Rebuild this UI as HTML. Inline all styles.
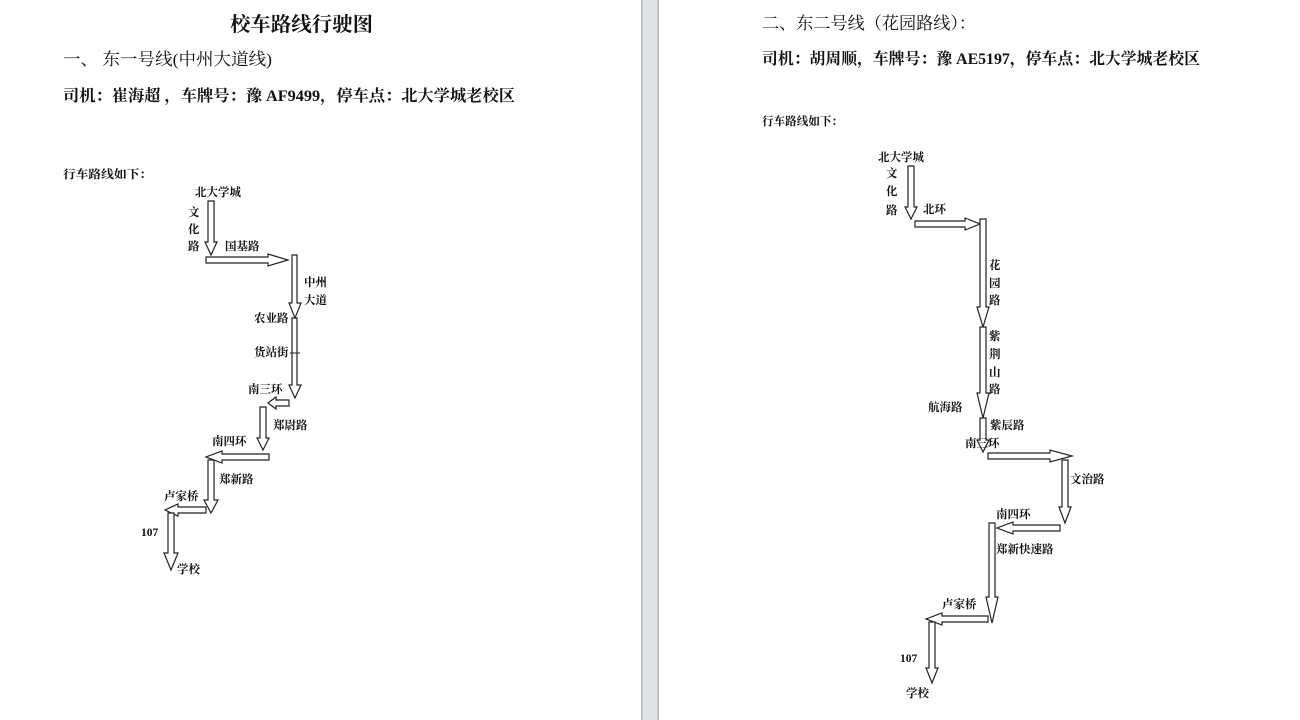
<!DOCTYPE html>
<html><head><meta charset="utf-8"><style>
html,body{margin:0;padding:0;background:#fff;}
svg{display:block}
text{font-family:"Liberation Serif","Noto Serif CJK SC","Noto Sans CJK SC",serif;fill:#111;}
.l{font-size:11.5px;font-weight:bold;}
</style></head><body>
<svg width="1300" height="720" viewBox="0 0 1300 720" xmlns="http://www.w3.org/2000/svg">
<rect x="0" y="0" width="1300" height="720" fill="#fff"/>
<rect x="641" y="0" width="18" height="720" fill="#dfe2e5"/>
<rect x="641" y="0" width="1.5" height="720" fill="#b8babc"/>
<rect x="657.5" y="0" width="1.5" height="720" fill="#b8babc"/>

<text x="230" y="31" font-size="20" font-weight="bold" textLength="143" lengthAdjust="spacingAndGlyphs">校车路线行驶图</text>
<text x="63" y="65" font-size="17" textLength="209" lengthAdjust="spacingAndGlyphs">一、 东一号线(中州大道线)</text>
<text x="63" y="101" font-size="16" font-weight="bold" textLength="452" lengthAdjust="spacingAndGlyphs">司机：崔海超 ，车牌号：豫 AF9499，停车点：北大学城老校区</text>
<text x="63" y="178" class="l" textLength="89" lengthAdjust="spacingAndGlyphs">行车路线如下：</text>

<text x="762" y="29" font-size="17" textLength="214" lengthAdjust="spacingAndGlyphs">二、东二号线（花园路线）：</text>
<text x="762" y="64" font-size="16" font-weight="bold" textLength="438" lengthAdjust="spacingAndGlyphs">司机：胡周顺，车牌号：豫 AE5197，停车点：北大学城老校区</text>
<text x="762" y="125" class="l" textLength="81" lengthAdjust="spacingAndGlyphs">行车路线如下：</text>

<g fill="#fff" stroke="#222" stroke-width="1.2">
<polygon points="208,201 214,201 214,242 217,242 211,255 205,242 208,242"/>
<polygon points="206,257 268,257 268,254 288,260 268,266 268,263 206,263"/>
<polygon points="292,255 297,255 297,303 301,303 295,318 289,303 292,303"/>
<polygon points="292,318 297,318 297,385 301,385 295,398 289,385 292,385"/>
<polygon points="289,400 276,400 276,397 268,403 276,409 276,406 289,406"/>
<polygon points="260,407 266,407 266,438 269,438 263,450 257,438 260,438"/>
<polygon points="269,454 222,454 222,451 206,457 222,463 222,460 269,460"/>
<polygon points="208,460 214,460 214,500 218,500 211,513 204,500 208,500"/>
<polygon points="206,507 178,507 178,504 165,510 178,516 178,513 206,513"/>
<polygon points="168,513 174,513 174,553 178,553 171,570 164,553 168,553"/>

<polygon points="908,166 914,166 914,207 917,207 911,219 905,207 908,207"/>
<polygon points="915,221 965,221 965,218 980,224 965,230 965,227 915,227"/>
<polygon points="980,219 986,219 986,307 989,307 983,327 977,307 980,307"/>
<polygon points="980,327 986,327 986,393 989,393 983,418 977,393 980,393"/>
<polygon points="980,418 986,418 986,440 989,440 983,452 977,440 980,440"/>
<polygon points="988,453 1050,453 1050,450 1072,456 1050,462 1050,459 988,459"/>
<polygon points="1062,460 1068,460 1068,507 1071,507 1065,523 1059,507 1062,507"/>
<polygon points="1060,525 1013,525 1013,522 997,528 1013,534 1013,531 1060,531"/>
<polygon points="989,523 995,523 995,597 998,597 992,623 986,597 989,597"/>
<polygon points="988,616 942,616 942,613 926,619 942,625 942,622 988,622"/>
<polygon points="929,622 935,622 935,668 938,668 932,683 926,668 929,668"/>
</g>
<line x1="290" y1="353" x2="300" y2="353" stroke="#222" stroke-width="1"/>

<g>
<text x="195" y="196" class="l">北大学城</text>
<text x="188" y="216" class="l">文</text>
<text x="188" y="233" class="l">化</text>
<text x="188" y="250" class="l">路</text>
<text x="225" y="250" class="l">国基路</text>
<text x="304" y="286" class="l">中州</text>
<text x="304" y="304" class="l">大道</text>
<text x="254" y="322" class="l">农业路</text>
<text x="254" y="356" class="l">货站街</text>
<text x="248" y="393" class="l">南三环</text>
<text x="273" y="429" class="l">郑尉路</text>
<text x="212" y="445" class="l">南四环</text>
<text x="219" y="483" class="l">郑新路</text>
<text x="164" y="500" class="l">卢家桥</text>
<text x="141" y="536" class="l">107</text>
<text x="177" y="573" class="l">学校</text>

<text x="878" y="161" class="l">北大学城</text>
<text x="886" y="177" class="l">文</text>
<text x="886" y="195" class="l">化</text>
<text x="886" y="214" class="l">路</text>
<text x="923" y="213" class="l">北环</text>
<text x="989" y="269" class="l">花</text>
<text x="989" y="287" class="l">园</text>
<text x="989" y="304" class="l">路</text>
<text x="989" y="340" class="l">紫</text>
<text x="989" y="358" class="l">荆</text>
<text x="989" y="376" class="l">山</text>
<text x="989" y="393" class="l">路</text>
<text x="928" y="411" class="l">航海路</text>
<text x="990" y="429" class="l">紫辰路</text>
<text x="965" y="447" class="l">南三环</text>
<text x="1070" y="483" class="l">文治路</text>
<text x="996" y="518" class="l">南四环</text>
<text x="996" y="553" class="l">郑新快速路</text>
<text x="942" y="608" class="l">卢家桥</text>
<text x="900" y="662" class="l">107</text>
<text x="906" y="697" class="l">学校</text>
</g>
</svg>
</body></html>
